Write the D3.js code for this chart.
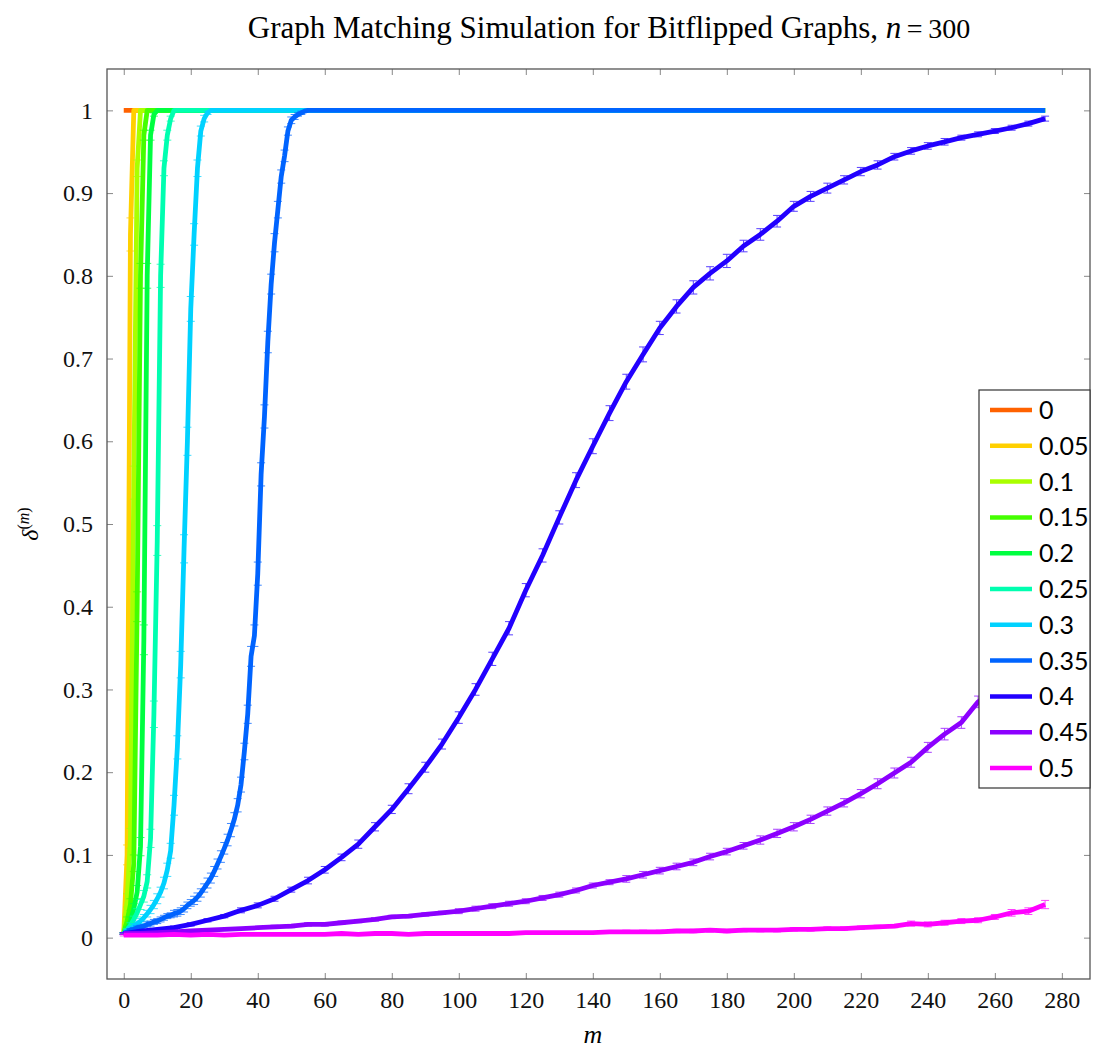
<!DOCTYPE html>
<html>
<head>
<meta charset="utf-8">
<script src="https://cdn.jsdelivr.net/npm/d3@7"></script>
<style>
  body { margin: 0; background: #fff; }
  svg { display: block; }
</style>
</head>
<body>
<div id="chart"></div>
<script>
// series labels (bitflip probability) and line colours
const labels = ["0", "0.05", "0.1", "0.15", "0.2", "0.25", "0.3", "0.35", "0.4", "0.45", "0.5"];
const colors = ["#ff6200", "#ffd000", "#aaff00", "#44ff00", "#00ff40", "#00ffb0", "#00d2ff", "#0064ff", "#2200ff", "#8c00ff", "#ff00ff"];

// m grids
const mZero = [0, 275];
const mSteep = [0,1,2,3,4,5,6,7,8,9,10,11,12,13,14,15,16,17,18,19,20,21,22,23,24,25,26,275];
const m35 = [0,1,2,3,4,5,6,7,8,9,10,11,12,13,14,15,16,17,18,19,20,21,22,23,24,25,26,27,28,29,30,31,32,33,34,35,36,37,38,39,40,41,42,43,44,45,46,47,48,49,50,51,52,53,54,55,56,60,275];
const mCoarse = [0,5,10,15,20,25,30,35,40,45,50,55,60,65,70,75,80,85,90,95,100,105,110,115,120,125,130,135,140,145,150,155,160,165,170,175,180,185,190,195,200,205,210,215,220,225,230,235,240,245,250,255,260,265,270,275];

// mean delta^(m) per series
const v000 = [1, 1];
const v005 = [0.005,0.1,0.85,1,1,1,1,1,1,1,1,1,1,1,1,1,1,1,1,1,1,1,1,1,1,1,1,1];
const v010 = [0.005,0.045,0.12,0.55,0.93,1,1,1,1,1,1,1,1,1,1,1,1,1,1,1,1,1,1,1,1,1,1,1];
const v015 = [0.005,0.02,0.04,0.09,0.4,0.8,0.97,1,1,1,1,1,1,1,1,1,1,1,1,1,1,1,1,1,1,1,1,1];
const v020 = [0.005,0.01,0.02,0.035,0.055,0.11,0.36,0.8,0.97,0.995,1,1,1,1,1,1,1,1,1,1,1,1,1,1,1,1,1,1];
const v025 = [0.005,0.009,0.015,0.022,0.03,0.04,0.05,0.068,0.12,0.27,0.48,0.8,0.93,0.97,0.99,1,1,1,1,1,1,1,1,1,1,1,1,1];
const v030 = [0.005,0.008,0.011,0.014,0.017,0.02,0.024,0.029,0.034,0.04,0.047,0.055,0.066,0.082,0.105,0.16,0.23,0.33,0.47,0.6,0.76,0.85,0.93,0.975,0.99,0.997,1,1];
const v035 = [0.005,0.007,0.009,0.01,0.012,0.013,0.014,0.016,0.017,0.019,0.02,0.022,0.024,0.026,0.027,0.029,0.03,0.032,0.035,0.039,0.042,0.045,0.049,0.054,0.06,0.066,0.072,0.08,0.089,0.098,0.108,0.118,0.13,0.143,0.16,0.185,0.225,0.27,0.34,0.365,0.44,0.56,0.63,0.72,0.79,0.84,0.88,0.92,0.945,0.975,0.988,0.992,0.995,0.997,0.999,1,1,1,1];
const v040 = [0.005,0.008,0.01,0.012,0.016,0.021,0.026,0.033,0.039,0.047,0.058,0.069,0.082,0.097,0.113,0.134,0.155,0.18,0.206,0.234,0.266,0.3,0.337,0.374,0.42,0.462,0.508,0.553,0.594,0.634,0.672,0.705,0.737,0.763,0.786,0.803,0.818,0.836,0.85,0.866,0.884,0.896,0.906,0.916,0.926,0.934,0.944,0.951,0.957,0.962,0.967,0.971,0.975,0.979,0.984,0.99];
const v045 = [0.005,0.005,0.006,0.007,0.008,0.009,0.01,0.011,0.012,0.013,0.014,0.016,0.016,0.018,0.02,0.022,0.025,0.026,0.028,0.03,0.032,0.035,0.038,0.041,0.044,0.048,0.052,0.057,0.063,0.067,0.071,0.076,0.081,0.086,0.091,0.098,0.104,0.111,0.118,0.126,0.134,0.143,0.153,0.163,0.174,0.186,0.199,0.212,0.23,0.246,0.26,0.285,0.3,0.32,0.345,0.37];
const v050 = [0.003,0.003,0.003,0.004,0.003,0.004,0.003,0.004,0.004,0.004,0.004,0.004,0.004,0.005,0.004,0.005,0.005,0.004,0.005,0.005,0.005,0.005,0.005,0.005,0.006,0.006,0.006,0.006,0.006,0.007,0.007,0.007,0.007,0.008,0.008,0.009,0.008,0.009,0.009,0.009,0.01,0.01,0.011,0.011,0.012,0.013,0.014,0.017,0.016,0.018,0.02,0.021,0.025,0.03,0.032,0.04];

// half-width of the error bars
const e000 = [0, 0];
const e005 = [0.001,0.012,0.02,0,0,0,0,0,0,0,0,0,0,0,0,0,0,0,0,0,0,0,0,0,0,0,0,0];
const e010 = [0.001,0.008,0.012,0.02,0.01,0,0,0,0,0,0,0,0,0,0,0,0,0,0,0,0,0,0,0,0,0,0,0];
const e015 = [0.001,0.005,0.007,0.01,0.018,0.015,0.006,0,0,0,0,0,0,0,0,0,0,0,0,0,0,0,0,0,0,0,0,0];
const e020 = [0.001,0.003,0.005,0.006,0.008,0.011,0.018,0.015,0.006,0.002,0,0,0,0,0,0,0,0,0,0,0,0,0,0,0,0,0,0];
const e025 = [0.001,0.002,0.003,0.004,0.005,0.006,0.007,0.008,0.011,0.016,0.018,0.014,0.009,0.006,0.003,0,0,0,0,0,0,0,0,0,0,0,0,0];
const e030 = [0.001,0.002,0.002,0.003,0.003,0.003,0.004,0.004,0.005,0.005,0.006,0.006,0.007,0.008,0.009,0.012,0.014,0.016,0.017,0.017,0.015,0.013,0.01,0.006,0.004,0.002,0,0];
const e035 = [0.001,0.001,0.002,0.002,0.002,0.002,0.002,0.003,0.003,0.003,0.003,0.003,0.003,0.003,0.003,0.004,0.004,0.004,0.004,0.004,0.004,0.005,0.005,0.005,0.005,0.006,0.006,0.006,0.006,0.007,0.007,0.007,0.008,0.008,0.008,0.009,0.01,0.011,0.012,0.013,0.014,0.014,0.014,0.013,0.012,0.011,0.01,0.008,0.007,0.005,0.004,0.003,0.002,0.002,0.001,0,0,0,0];
const e040 = [0.001,0.001,0.001,0.002,0.002,0.002,0.002,0.003,0.003,0.003,0.003,0.004,0.004,0.004,0.005,0.005,0.005,0.006,0.006,0.006,0.007,0.007,0.008,0.008,0.008,0.008,0.008,0.009,0.009,0.009,0.009,0.009,0.008,0.008,0.008,0.008,0.008,0.007,0.007,0.007,0.006,0.006,0.006,0.005,0.005,0.005,0.004,0.004,0.004,0.004,0.003,0.003,0.003,0.003,0.003,0.003];
const e045 = [0.001,0.001,0.001,0.001,0.001,0.001,0.001,0.001,0.001,0.002,0.002,0.002,0.002,0.002,0.002,0.002,0.002,0.002,0.002,0.002,0.003,0.003,0.003,0.003,0.003,0.003,0.003,0.003,0.003,0.003,0.004,0.004,0.004,0.004,0.004,0.004,0.004,0.004,0.005,0.005,0.005,0.005,0.005,0.005,0.005,0.006,0.006,0.006,0.006,0.007,0.007,0.007,0.007,0.008,0.008,0.008];
const e050 = [0.001,0.001,0.001,0.001,0.001,0.001,0.001,0.001,0.001,0.001,0.001,0.001,0.001,0.001,0.001,0.001,0.001,0.001,0.001,0.001,0.001,0.001,0.001,0.001,0.001,0.001,0.001,0.001,0.001,0.001,0.002,0.002,0.002,0.002,0.002,0.002,0.002,0.002,0.002,0.002,0.002,0.002,0.002,0.002,0.002,0.002,0.002,0.003,0.003,0.003,0.003,0.003,0.003,0.004,0.004,0.005];

const xTicks = [0,20,40,60,80,100,120,140,160,180,200,220,240,260,280];
const yTicks = [0,0.1,0.2,0.3,0.4,0.5,0.6,0.7,0.8,0.9,1];

const grids = [mZero, mSteep, mSteep, mSteep, mSteep, mSteep, mSteep, m35, mCoarse, mCoarse, mCoarse];
const means = [v000, v005, v010, v015, v020, v025, v030, v035, v040, v045, v050];
const errs = [e000, e005, e010, e015, e020, e025, e030, e035, e040, e045, e050];

const width = 1104, height = 1050;
const plotL = 107, plotR = 1090, plotT = 69, plotB = 979;

const svg = d3.select("#chart").append("svg")
  .attr("width", width)
  .attr("height", height);

const x = d3.scaleLinear().domain([-5, 288.4]).range([plotL, plotR]);
const y = d3.scaleLinear().domain([-0.05, 1.05]).range([plotB, plotT]);

const serif = "'Liberation Serif', 'DejaVu Serif', serif";

// title
const title = svg.append("text")
  .attr("x", 609)
  .attr("y", 38)
  .attr("text-anchor", "middle")
  .style("font-family", serif)
  .style("font-size", "31px");
title.append("tspan").text("Graph Matching Simulation for Bitflipped Graphs, ");
title.append("tspan").style("font-style", "italic").text("n");
title.append("tspan").style("font-size", "28px").text("\u2009=\u2009300");

// axes (ticks inside, on all four sides)
const tickCol = "#888";
svg.append("g")
  .attr("transform", `translate(0,${plotB})`)
  .call(d3.axisBottom(x).tickValues(xTicks).tickSize(-6).tickPadding(12).tickFormat(d3.format("d")))
  .call(g => g.select(".domain").remove());
svg.append("g")
  .attr("transform", `translate(0,${plotT})`)
  .call(d3.axisTop(x).tickValues(xTicks).tickSize(-6).tickFormat(""))
  .call(g => g.select(".domain").remove());
svg.append("g")
  .attr("transform", `translate(${plotL},0)`)
  .call(d3.axisLeft(y).tickValues(yTicks).tickSize(-6).tickPadding(14).tickFormat(d => d === 0 || d === 1 ? d3.format("d")(d) : d3.format(".1f")(d)))
  .call(g => g.select(".domain").remove());
svg.append("g")
  .attr("transform", `translate(${plotR},0)`)
  .call(d3.axisRight(y).tickValues(yTicks).tickSize(-6).tickFormat(""))
  .call(g => g.select(".domain").remove());

svg.selectAll(".tick line").attr("stroke", tickCol).attr("stroke-width", 1);
svg.selectAll(".tick text")
  .style("font-family", serif)
  .style("font-size", "24px")
  .attr("fill", "#111");

svg.append("rect")
  .attr("x", plotL).attr("y", plotT)
  .attr("width", plotR - plotL).attr("height", plotB - plotT)
  .attr("fill", "none")
  .attr("stroke", "#555")
  .attr("stroke-width", 1.3);

// axis labels
svg.append("text")
  .attr("x", x(140))
  .attr("y", 1043)
  .attr("text-anchor", "middle")
  .style("font-family", serif)
  .style("font-style", "italic")
  .style("font-size", "26px")
  .text("m");

const yl = svg.append("text")
  .attr("transform", `translate(38,${(plotT + plotB) / 2}) rotate(-90)`)
  .attr("text-anchor", "middle")
  .style("font-family", serif)
  .style("font-size", "24px");
yl.append("tspan").style("font-style", "italic").text("δ");
yl.append("tspan").attr("dy", -9).style("font-size", "16px").text("(");
yl.append("tspan").style("font-size", "16px").style("font-style", "italic").text("m");
yl.append("tspan").style("font-size", "16px").text(")");

// series
const line = d3.line().x(d => x(d[0])).y(d => y(d[1]));

labels.forEach((lab, i) => {
  const pts = grids[i].map((m, j) => [m, means[i][j], errs[i][j]]);
  const g = svg.append("g");
  g.append("path")
    .datum(pts)
    .attr("fill", "none")
    .attr("stroke", colors[i])
    .attr("stroke-width", 4.8)
    .attr("stroke-linejoin", "round")
    .attr("d", line);
  const eb = g.selectAll(".eb")
    .data(pts.filter(d => d[2] > 0))
    .join("g")
    .attr("stroke", colors[i])
    .attr("stroke-width", 1)
    .attr("opacity", 0.75);
  eb.append("line")
    .attr("x1", d => x(d[0])).attr("x2", d => x(d[0]))
    .attr("y1", d => y(d[1] - d[2])).attr("y2", d => y(d[1] + d[2]));
  eb.append("line")
    .attr("x1", d => x(d[0]) - 4).attr("x2", d => x(d[0]) + 4)
    .attr("y1", d => y(d[1] + d[2])).attr("y2", d => y(d[1] + d[2]));
  eb.append("line")
    .attr("x1", d => x(d[0]) - 4).attr("x2", d => x(d[0]) + 4)
    .attr("y1", d => y(d[1] - d[2])).attr("y2", d => y(d[1] - d[2]));
});

// legend
const lgX = 979, lgY = 390, lgW = 111, lgH = 398, rowH = 35.8;
const legend = svg.append("g");
legend.append("rect")
  .attr("x", lgX).attr("y", lgY)
  .attr("width", lgW).attr("height", lgH)
  .attr("fill", "#fff")
  .attr("stroke", "#333")
  .attr("stroke-width", 1.2);
labels.forEach((lab, i) => {
  const cy = lgY + 20 + i * rowH;
  legend.append("line")
    .attr("x1", lgX + 11).attr("x2", lgX + 53)
    .attr("y1", cy).attr("y2", cy)
    .attr("stroke", colors[i])
    .attr("stroke-width", 4.5);
  legend.append("text")
    .attr("x", lgX + 60)
    .attr("y", cy)
    .attr("dy", "0.36em")
    .style("font-family", "Lato, 'Noto Sans', sans-serif")
    .style("font-size", "25px")
    .text(lab);
});
</script>
</body>
</html>
